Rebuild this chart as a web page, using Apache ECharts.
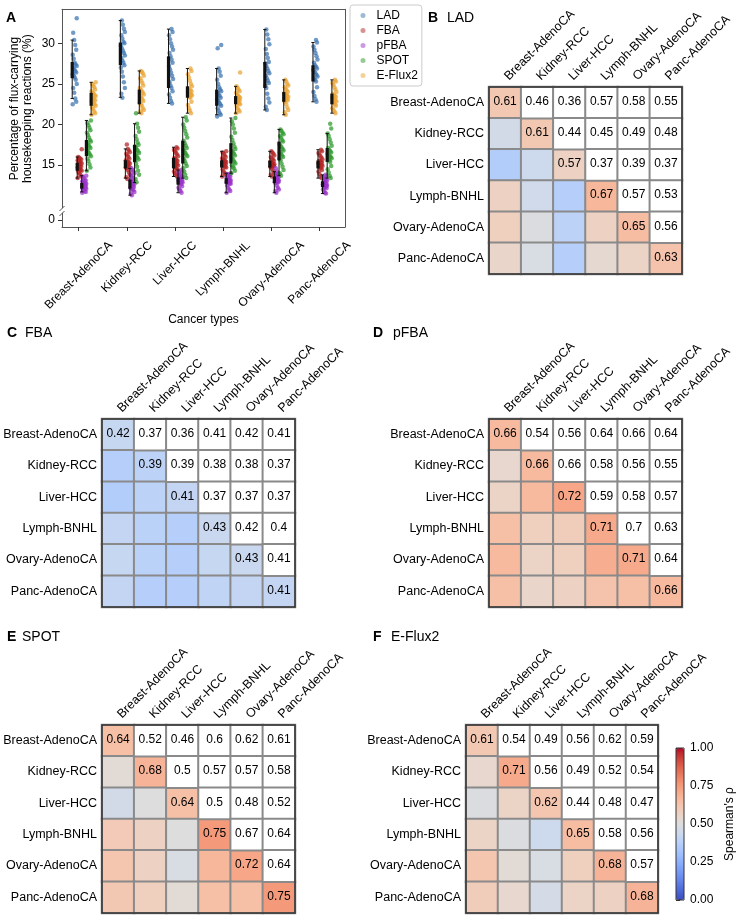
<!DOCTYPE html>
<html><head><meta charset="utf-8">
<script src="https://cdn.jsdelivr.net/npm/echarts@6/dist/echarts.min.js"></script>
<style>html,body{margin:0;padding:0;background:#fff}#c{width:738px;height:921px}</style>
</head><body><div id="c"></div>
<script>
const cancers = ['Breast-AdenoCA','Kidney-RCC','Liver-HCC','Lymph-BNHL','Ovary-AdenoCA','Panc-AdenoCA'];
const methods = ['LAD','FBA','pFBA','SPOT','E-Flux2'];
const yTicksA = [15,20,25,30];
const cbTicks = [0,0.25,0.5,0.75,1];

// Panel A: per-sample percentages (one list per cancer type)
const pts_LAD = [
 [22.5,22.8,23.2,23.9,24.5,25.0,25.5,25.8,26.0,26.2,26.4,26.6,26.8,27.0,27.2,27.4,27.6,28.1,28.6,29.2,29.8,30.4,31.3,33.1],
 [23.3,23.8,24.5,25.2,25.9,26.5,27.0,27.3,27.6,27.9,28.2,28.5,28.8,29.1,29.4,29.7,30.0,30.2,30.6,31.0,31.4,31.8,32.3,32.8],
 [22.6,22.9,23.3,23.7,24.1,24.5,24.8,25.2,25.6,26.0,26.4,26.8,27.2,27.6,28.0,28.4,28.8,29.2,29.6,30.0,30.5,31.0,31.4,31.75],
 [21.0,21.2,21.4,21.7,22.0,22.3,22.5,22.7,22.9,23.1,23.3,23.5,23.7,23.9,24.1,24.3,24.6,25.0,25.5,26.0,26.5,26.9,29.4,29.8],
 [21.8,22.2,22.7,23.2,23.8,24.5,24.8,25.1,25.4,25.7,26.0,26.3,26.6,26.9,27.2,27.5,27.7,28.2,28.7,29.3,29.9,30.5,31.1,31.7],
 [22.8,23.1,23.5,24.0,24.6,25.3,25.5,25.7,25.9,26.1,26.3,26.5,26.7,26.9,27.1,27.3,27.6,28.0,28.4,28.8,29.2,29.6,30.1,30.4]
];
const pts_FBA = [
 [13.4,13.6,13.8,14.0,14.2,14.3,14.4,14.5,14.6,14.7,14.8,14.9,15.0,15.1,15.2,15.3,15.4,15.5,15.6,15.7,15.8,15.9,16.0,16.95],
 [13.3,13.5,13.8,14.1,14.4,14.6,14.7,14.8,14.9,15.0,15.1,15.2,15.3,15.4,15.5,15.6,15.8,16.0,16.2,16.4,16.6,16.8,17.0,17.55],
 [13.6,13.8,14.0,14.2,14.4,14.6,14.7,14.8,14.95,15.1,15.2,15.3,15.4,15.5,15.6,15.75,15.9,16.1,16.3,16.5,16.7,16.9,17.05,17.2],
 [13.6,13.8,14.0,14.2,14.5,14.7,14.8,14.9,15.0,15.05,15.1,15.2,15.25,15.3,15.4,15.5,15.6,15.7,15.85,16.0,16.2,16.4,16.55,16.7],
 [13.6,13.8,14.0,14.2,14.5,14.7,14.8,14.85,14.9,15.0,15.05,15.1,15.15,15.2,15.3,15.4,15.55,15.7,15.85,16.0,16.2,16.4,16.55,16.7],
 [13.4,13.6,13.9,14.2,14.4,14.6,14.7,14.8,14.9,15.0,15.05,15.1,15.2,15.3,15.4,15.5,15.55,15.7,15.9,16.1,16.3,16.5,16.7,16.9]
];
const pts_pFBA = [
 [11.6,11.7,11.8,11.9,12.0,12.1,12.15,12.2,12.3,12.35,12.4,12.5,12.55,12.6,12.7,12.75,12.8,12.9,13.0,13.1,13.2,13.4,13.6,13.7],
 [11.3,11.5,11.7,11.9,12.0,12.1,12.2,12.3,12.4,12.5,12.6,12.7,12.8,12.9,13.0,13.1,13.2,13.4,13.6,13.8,14.0,14.2,14.4,14.6],
 [11.6,11.8,12.0,12.2,12.4,12.6,12.7,12.8,12.85,12.9,13.0,13.05,13.1,13.15,13.2,13.3,13.4,13.5,13.6,13.75,13.9,14.05,14.2,14.4],
 [11.6,11.8,12.0,12.2,12.5,12.7,12.75,12.8,12.85,12.9,12.95,13.0,13.05,13.1,13.15,13.2,13.3,13.4,13.5,13.6,13.7,13.8,13.9,14.0],
 [11.6,11.8,12.0,12.2,12.5,12.8,12.85,12.9,12.95,13.0,13.05,13.1,13.15,13.2,13.3,13.4,13.5,13.6,13.7,13.8,13.9,14.0,14.2,14.6],
 [11.5,11.6,11.8,12.0,12.15,12.3,12.35,12.4,12.45,12.5,12.55,12.6,12.65,12.7,12.8,12.9,13.0,13.1,13.2,13.3,13.4,13.5,13.65,13.8]
];
const pts_SPOT = [
 [14.3,14.7,15.1,15.5,15.8,16.1,16.3,16.5,16.7,16.9,17.1,17.3,17.5,17.7,17.9,18.1,18.4,18.7,19.0,19.3,19.6,19.9,20.2,20.5],
 [12.9,13.3,13.8,14.3,14.8,15.2,15.5,15.7,15.9,16.1,16.3,16.5,16.7,16.9,17.1,17.3,17.5,17.8,18.2,18.6,19.1,19.6,20.1,21.4],
 [13.4,13.8,14.2,14.6,14.9,15.2,15.5,15.8,16.1,16.3,16.5,16.7,16.9,17.1,17.4,17.7,18.0,18.4,18.8,19.2,19.6,20.0,20.5,20.9],
 [14.0,14.3,14.6,14.8,15.0,15.2,15.4,15.6,15.8,16.0,16.2,16.4,16.6,16.8,17.0,17.3,17.7,18.1,18.5,19.0,19.5,20.0,20.4,20.8],
 [13.7,14.0,14.4,14.8,15.2,15.6,15.8,16.0,16.2,16.4,16.6,16.8,17.0,17.2,17.4,17.6,17.9,18.1,18.4,18.6,18.8,19.0,19.2,19.4],
 [13.4,13.7,14.1,14.5,14.9,15.4,15.6,15.7,15.85,16.0,16.1,16.25,16.4,16.55,16.7,16.9,17.1,17.4,17.8,18.2,18.6,18.9,19.5,20.1]
];
const pts_EFlux2 = [
 [21.2,21.4,21.6,21.9,22.1,22.3,22.5,22.6,22.8,22.9,23.0,23.1,23.2,23.3,23.5,23.6,23.8,23.9,24.1,24.3,24.6,24.8,25.0,25.2],
 [21.4,21.6,21.8,22.0,22.3,22.5,22.7,22.9,23.1,23.3,23.5,23.7,23.9,24.1,24.3,24.5,24.8,25.1,25.4,25.7,26.0,26.3,26.5,26.6],
 [21.4,21.7,22.0,22.4,22.8,23.3,23.4,23.5,23.6,23.7,23.8,23.9,24.0,24.1,24.2,24.3,24.5,24.7,25.0,25.4,25.8,26.2,26.6,26.9],
 [21.4,21.6,21.8,22.0,22.3,22.5,22.6,22.7,22.8,22.9,23.0,23.05,23.1,23.2,23.3,23.4,23.5,23.7,23.9,24.1,24.3,24.5,24.7,26.4],
 [21.2,21.5,21.8,22.1,22.5,22.8,22.9,23.0,23.1,23.2,23.3,23.4,23.5,23.6,23.7,23.85,24.0,24.2,24.4,24.6,24.8,25.0,25.3,25.5],
 [21.4,21.6,21.8,22.0,22.3,22.5,22.6,22.7,22.85,23.0,23.1,23.2,23.3,23.4,23.5,23.65,23.8,24.0,24.3,24.6,24.9,25.1,25.3,25.5]
];
// box stats [whisker low, Q1, median, Q3, whisker high]
const box_LAD = [[23.2,25.7,26.7,27.7,30.4],[23.35,27.3,28.7,30.1,32.8],[22.6,24.5,26.5,28.4,31.75],[21.2,22.3,23.3,24.3,26.9],[21.8,24.5,26.1,27.7,31.7],[22.8,25.3,26.3,27.3,30.1]];
const box_FBA = [[13.4,14.3,14.8,15.3,16.0],[13.4,14.6,15.1,15.6,17.0],[13.6,14.6,15.25,15.9,17.2],[13.6,14.7,15.15,15.6,16.7],[13.6,14.7,15.1,15.55,16.7],[13.4,14.6,15.1,15.55,16.9]];
const box_pFBA = [[11.7,12.1,12.45,12.8,13.7],[11.3,12.1,12.65,13.2,14.6],[11.6,12.6,13.05,13.5,14.4],[11.6,12.7,13.05,13.4,14.0],[11.6,12.8,13.2,13.6,14.2],[11.5,12.3,12.65,13.0,13.8]];
const box_SPOT = [[14.3,16.1,17.1,18.1,20.5],[12.85,15.4,16.45,17.5,20.1],[13.4,15.2,16.6,18.0,20.9],[14.0,15.2,16.45,17.7,20.8],[13.7,15.6,16.75,17.9,19.4],[13.4,15.4,16.25,17.1,18.9]];
const box_EFlux2 = [[21.2,22.3,23.1,23.9,25.2],[21.4,22.5,23.4,24.3,26.6],[21.4,23.3,24.0,24.7,26.9],[21.4,22.5,23.0,23.5,24.7],[21.2,22.8,23.4,24.0,25.5],[21.4,22.5,23.15,23.8,25.5]];

// Panels B-F: Spearman correlations, upper triangle rows (diagonal first)
const corr_LAD = [[0.61,0.46,0.36,0.57,0.58,0.55],[0.61,0.44,0.45,0.49,0.48],[0.57,0.37,0.39,0.37],[0.67,0.57,0.53],[0.65,0.56],[0.63]];
const corr_FBA = [[0.42,0.37,0.36,0.41,0.42,0.41],[0.39,0.39,0.38,0.38,0.37],[0.41,0.37,0.37,0.37],[0.43,0.42,0.4],[0.43,0.41],[0.41]];
const corr_pFBA = [[0.66,0.54,0.56,0.64,0.66,0.64],[0.66,0.66,0.58,0.56,0.55],[0.72,0.59,0.58,0.57],[0.71,0.7,0.63],[0.71,0.64],[0.66]];
const corr_SPOT = [[0.64,0.52,0.46,0.6,0.62,0.61],[0.68,0.5,0.57,0.57,0.58],[0.64,0.5,0.48,0.52],[0.75,0.67,0.64],[0.72,0.64],[0.75]];
const corr_EFlux2 = [[0.61,0.54,0.49,0.56,0.62,0.59],[0.71,0.56,0.49,0.52,0.54],[0.62,0.44,0.48,0.47],[0.65,0.58,0.56],[0.68,0.57],[0.68]];

const FONT = '"Liberation Sans", Arial, Helvetica, sans-serif';
const CAT_FS = 12.5;
const colors = ['#3b73b0','#b32424','#9a33c9','#2c9a2c','#eaa433'];
const coolwarm = [[59,76,192],[68,90,204],[77,104,215],[87,117,225],[98,130,234],[108,142,241],[119,154,247],[130,165,251],[141,176,254],[152,185,255],[163,194,255],[174,201,253],[184,208,249],[194,213,244],[204,217,238],[213,219,230],[221,221,221],[229,216,209],[236,211,197],[241,204,185],[245,196,173],[247,187,160],[247,177,148],[247,166,135],[244,154,123],[241,141,111],[236,127,99],[229,112,88],[222,96,77],[213,80,66],[203,62,56],[192,40,47],[180,4,38]].map(c=>'rgb('+c.join(',')+')');

const pts = [pts_LAD, pts_FBA, pts_pFBA, pts_SPOT, pts_EFlux2];
const boxes = [box_LAD, box_FBA, box_pFBA, box_SPOT, box_EFlux2];
const corrs = [corr_LAD, corr_FBA, corr_pFBA, corr_SPOT, corr_EFlux2];
const stripOff = [-0.083, 0.021, 0.115, 0.212, 0.31];
const boxGap = 0.052;
function jitter(k){ return (((k*7)%9) - 4) / 4 * 0.042; }

const mctx = document.createElement('canvas').getContext('2d');
function textW(t, size){ mctx.font = size + 'px ' + FONT; return mctx.measureText(t).width; }

const XMIN = -0.347, XMAX = 5.53;
const frame = '#555';
const grids = [
  {left:62, top:9.3, width:283, height:198.7},
  {left:62, top:213, width:283, height:14},
  {left:489, top:87, width:193, height:187},
  {left:102, top:419, width:193, height:188},
  {left:489, top:419, width:193, height:188},
  {left:102, top:725, width:193, height:188},
  {left:466, top:725, width:192, height:188},
  {left:676, top:748, width:8, height:152}
];
for (let g=2; g<8; g++) Object.assign(grids[g], {show:true, borderColor:'#333', borderWidth:(g===7?1:1.5), backgroundColor:'transparent', z:10});

const lineOnly = (c)=>({show:true, onZero:false, lineStyle:{color:c, width:1}});
const xAxis = [
  {type:'value', gridIndex:0, position:'top', min:XMIN, max:XMAX, axisLine:lineOnly(frame), axisTick:{show:false}, axisLabel:{show:false}, splitLine:{show:false}},
  {type:'value', gridIndex:1, position:'bottom', min:XMIN, max:XMAX, axisLine:lineOnly(frame),
   axisTick:{show:true, customValues:[0,1,2,3,4,5], length:4, lineStyle:{color:'#333'}}, axisLabel:{show:false}, splitLine:{show:false},
   name:'Cancer types', nameLocation:'middle', nameGap:87, nameTextStyle:{fontSize:12, color:'#000', fontFamily:FONT}}
];
const yAxis = [
  {type:'value', gridIndex:0, position:'left', min:9.72, max:34.19, axisLine:lineOnly(frame),
   axisTick:{show:true, customValues:yTicksA, length:4, lineStyle:{color:'#333'}},
   axisLabel:{show:true, customValues:yTicksA, fontSize:12, color:'#000', fontFamily:FONT, margin:7}, splitLine:{show:false},
   name:'Percentage of flux-carrying\nhousekeeping reactions (%)', nameLocation:'middle', nameGap:28,
   nameTextStyle:{fontSize:12, color:'#000', fontFamily:FONT, lineHeight:13}},
  {type:'value', gridIndex:0, position:'right', min:9.72, max:34.19, axisLine:lineOnly(frame), axisTick:{show:false}, axisLabel:{show:false}, splitLine:{show:false}},
  {type:'value', gridIndex:1, position:'left', min:-1, max:1, axisLine:lineOnly(frame),
   axisTick:{show:true, customValues:[0], length:4, lineStyle:{color:'#333'}},
   axisLabel:{show:true, customValues:[0], fontSize:12, color:'#000', fontFamily:FONT, margin:7}, splitLine:{show:false}},
  {type:'value', gridIndex:1, position:'right', min:-1, max:1, axisLine:lineOnly(frame), axisTick:{show:false}, axisLabel:{show:false}, splitLine:{show:false}}
];

const series = [];
methods.forEach((m, mi) => {
  const data = [];
  pts[mi].forEach((arr, ci) => arr.forEach((v, k) => data.push([ci + stripOff[mi] + jitter(k + ci*3), v])));
  series.push({type:'scatter', name:m, xAxisIndex:0, yAxisIndex:0, data, symbolSize:4.5,
    itemStyle:{color:colors[mi], opacity:0.72}, silent:true, z:3});
});
methods.forEach((m, mi) => {
  series.push({type:'custom', xAxisIndex:0, yAxisIndex:0, silent:true, z:4,
    data: boxes[mi].map((b, ci) => [ci + stripOff[mi] - boxGap, b[0], b[1], b[3], b[4]]),
    encode:{x:0, y:[1,2,3,4]},
    renderItem(params, api){
      const x = api.value(0);
      const lo = api.coord([x, api.value(1)]), q1 = api.coord([x, api.value(2)]);
      const q3 = api.coord([x, api.value(3)]), hi = api.coord([x, api.value(4)]);
      const w = 3.2, c = '#111';
      return {type:'group', children:[
        {type:'line', shape:{x1:lo[0], y1:lo[1], x2:hi[0], y2:hi[1]}, style:{stroke:c, lineWidth:1}},
        {type:'line', shape:{x1:lo[0]-w/2, y1:lo[1], x2:lo[0]+w/2, y2:lo[1]}, style:{stroke:c, lineWidth:1}},
        {type:'line', shape:{x1:hi[0]-w/2, y1:hi[1], x2:hi[0]+w/2, y2:hi[1]}, style:{stroke:c, lineWidth:1}},
        {type:'rect', shape:{x:q3[0]-w/2, y:q3[1], width:w, height:q1[1]-q3[1]}, style:{fill:c}}
      ]};
    }});
});
// rotated category labels of panel A (centred like matplotlib ha='center')
series.push({type:'custom', xAxisIndex:1, yAxisIndex:2, silent:true,
  data: cancers.map((c, i) => [i, -1]),
  renderItem(params, api){
    const p = api.coord([api.value(0), api.value(1)]);
    const name = cancers[params.dataIndex];
    const L = textW(name, 12), h = 13;
    const D = 12 + 0.3536 * (L + h);
    return {type:'text', x:p[0], y:p[1] + D, rotation:Math.PI/4,
      style:{text:name, fontSize:12, fontFamily:FONT, fill:'#000', align:'center', verticalAlign:'middle', textAlign:'center', textVerticalAlign:'middle'}};
  }});

const coloredIdx = [];
corrs.forEach((cm, pi) => {
  const g = 2 + pi;
  xAxis.push({type:'category', gridIndex:g, position:'top', data:cancers, axisLine:{show:false}, axisTick:{show:false}, splitLine:{show:false},
    axisLabel:{show:false}});
  yAxis.push({type:'category', gridIndex:g, inverse:true, data:cancers, axisLine:{show:false}, axisTick:{show:false}, splitLine:{show:false},
    axisLabel:{interval:0, margin:5, fontSize:CAT_FS, color:'#000', fontFamily:FONT}});
  const xi = xAxis.length - 1, yi = yAxis.length - 1;
  const lower = [], upper = [];
  for (let i = 0; i < 6; i++) for (let j = 0; j < 6; j++) {
    const v = i <= j ? cm[i][j - i] : cm[j][i - j];
    if (j < i) lower.push({value:[j, i, v]});
    else if (j === i) lower.push({value:[j, i, v], label:{show:true}});
    else upper.push({value:[j, i, v]});
  }
  const lab = {fontSize:12, color:'#000', fontFamily:FONT, formatter:(p)=>String(p.value[2]), offset:[0,-1]};
  coloredIdx.push(series.length);
  series.push({type:'heatmap', xAxisIndex:xi, yAxisIndex:yi, data:lower, silent:true,
    itemStyle:{borderColor:'#8a8a8a', borderWidth:2}, label:Object.assign({show:false}, lab), emphasis:{disabled:true}});
  series.push({type:'heatmap', xAxisIndex:xi, yAxisIndex:yi, data:upper, silent:true,
    itemStyle:{color:'#ffffff', borderColor:'#8a8a8a', borderWidth:2}, label:Object.assign({show:true}, lab), emphasis:{disabled:true}});
  // rotated column labels above the heatmap
  series.push({type:'custom', xAxisIndex:xi, yAxisIndex:yi, silent:true, z:12,
    data: cancers.map((c, j) => [j, 0]),
    renderItem(params, api){
      const p = api.coord([api.value(0), api.value(1)]);
      const s = api.size([1, 1]);
      return {type:'text', x:p[0] + 6, y:p[1] - s[1]/2 - 4, rotation:Math.PI/4,
        style:{text:cancers[params.dataIndex], fontSize:CAT_FS, fontFamily:FONT, fill:'#000', align:'left', verticalAlign:'bottom', textAlign:'left', textVerticalAlign:'bottom'}};
    }});
});
// colorbar axis
xAxis.push({type:'value', gridIndex:7, show:false, min:0, max:1});
yAxis.push({type:'value', gridIndex:7, position:'right', min:0, max:1, interval:0.25,
  axisLine:{show:false}, axisTick:{show:true, length:4, lineStyle:{color:'#333'}}, splitLine:{show:false},
  axisLabel:{fontSize:12, color:'#000', fontFamily:FONT, margin:6, formatter:(v)=>v.toFixed(2)},
  name:"Spearman's ρ", nameLocation:'middle', nameGap:40, nameRotate:90, nameTextStyle:{fontSize:12, color:'#000', fontFamily:FONT}});
series.push({type:'scatter', xAxisIndex:xAxis.length-1, yAxisIndex:yAxis.length-1, data:[], silent:true});

function title(letter, name, x, nx, y){
  const arr = [{type:'text', x:x, y:y, silent:true, style:{text:letter, fontSize:14, fontWeight:'bold', fontFamily:FONT, fill:'#000', verticalAlign:'middle', textVerticalAlign:'middle'}}];
  if (name) arr.push({type:'text', x:nx, y:y, silent:true, style:{text:name, fontSize:14, fontFamily:FONT, fill:'#000', verticalAlign:'middle', textVerticalAlign:'middle'}});
  return arr;
}
const graphic = [].concat(
  title('A', null, 6, 0, 18),
  title('B', 'LAD', 428, 447, 18),
  title('C', 'FBA', 7, 25, 333),
  title('D', 'pFBA', 373, 393, 333),
  title('E', 'SPOT', 7, 22, 637),
  title('F', 'E-Flux2', 373, 391, 637),
  [
    {type:'rect', shape:{x:58, y:208.5, width:8, height:4}, style:{fill:'#fff'}, silent:true, z:50},
    {type:'line', shape:{x1:59.5, y1:211, x2:64.5, y2:206}, style:{stroke:frame, lineWidth:1}, silent:true, z:51},
    {type:'line', shape:{x1:59.5, y1:216, x2:64.5, y2:211}, style:{stroke:frame, lineWidth:1}, silent:true, z:51},
    {type:'line', shape:{x1:345.5, y1:208, x2:345.5, y2:213}, style:{stroke:frame, lineWidth:1}, silent:true, z:51}
  ]
);

const option = {
  animation:false,
  backgroundColor:'#fff',
  textStyle:{fontFamily:FONT},
  grid:grids, xAxis, yAxis, series, graphic,
  legend:{orient:'vertical', left:350, top:5, padding:[3,4,3,10.5], itemGap:0, itemWidth:17, itemHeight:5,
    borderColor:'#cccccc', borderWidth:1, borderRadius:3,
    textStyle:{fontSize:12, color:'#000', fontFamily:FONT, lineHeight:15},
    data: methods.map((m, i) => ({name:m, icon:'circle', itemStyle:{color:colors[i], opacity:0.5}}))},
  visualMap:{type:'continuous', min:0, max:1, seriesIndex:coloredIdx, inRange:{color:coolwarm},
    left:676, top:748, itemWidth:8, itemHeight:152, padding:0, calculable:false, text:null, hoverLink:false, show:true}
};
const chart = echarts.init(document.getElementById('c'), null, {renderer:'canvas'});
chart.setOption(option);
</script></body></html>
